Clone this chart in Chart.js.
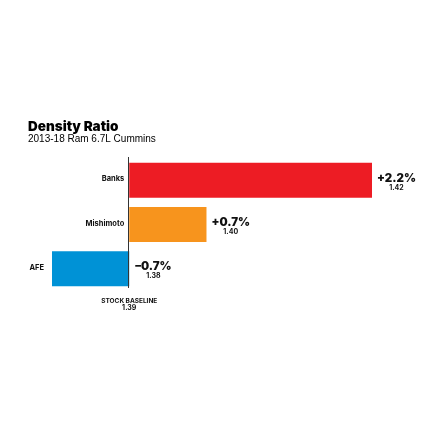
<!DOCTYPE html>
<html><head><meta charset="utf-8">
<script src="https://cdn.jsdelivr.net/npm/chart.js@4"></script>
<style>html,body{margin:0;padding:0;background:#fff}#wrap{width:430px;height:430px}</style>
</head><body><div id="wrap"><canvas id="c" width="430" height="430"></canvas></div>
<script>
const categories = ['Banks', 'Mishimoto', 'AFE'];
const pctChange = [2.2, 0.7, -0.7];
const pctLabels = ['+2.2%', '+0.7%', '\u20130.7%'];
const ratioLabels = ['1.42', '1.40', '1.38'];
const barColors = ['#ED1C24', '#F7941D', '#0092D6'];
const baselineLabel = 'STOCK BASELINE';
const baselineValue = '1.39';
const titleText = 'Density Ratio';
const subtitleText = '2013-18 Ram 6.7L Cummins';

const annot = {
  id: 'annot',
  afterDatasetsDraw(chart) {
    const ctx = chart.ctx, xs = chart.scales.x, ca = chart.chartArea;
    const x0 = xs.getPixelForValue(0);
    ctx.save();
    ctx.strokeStyle = '#333'; ctx.lineWidth = 1;
    ctx.beginPath(); ctx.moveTo(Math.round(x0) - 0.5, ca.top - 1); ctx.lineTo(Math.round(x0) - 0.5, ca.bottom - 3); ctx.stroke();
    ctx.fillStyle = '#000'; ctx.textBaseline = 'alphabetic'; ctx.textAlign = 'left';
    ctx.font = '900 13.5px Inter';
    ctx.fillText(titleText, 28, 131);
    ctx.font = '10px Arial';
    ctx.fillText(subtitleText, 28, 142);
    const meta = chart.getDatasetMeta(0);
    meta.data.forEach((bar, i) => {
      const y = bar.y;
      const v = pctChange[i];
      const left = Math.min(bar.x, bar.base);
      const right = Math.max(bar.x, bar.base);
      ctx.fillStyle = '#111';
      ctx.font = '700 7.5px Inter';
      ctx.textAlign = 'right'; ctx.textBaseline = 'alphabetic';
      ctx.fillText(categories[i], left - (v < 0 ? 8 : 5), y + 1);
      const lx = (v >= 0 ? right + 5 : x0 + 6);
      ctx.font = '900 11.5px Inter';
      ctx.textAlign = 'left';
      const w = ctx.measureText(pctLabels[i]).width;
      ctx.fillText(pctLabels[i], lx, y + 1.5);
      ctx.font = '700 7px Inter';
      ctx.textAlign = 'center';
      ctx.fillText(ratioLabels[i], lx + w / 2, y + 9.5);
    });
    ctx.textAlign = 'center'; ctx.textBaseline = 'alphabetic';
    ctx.font = '700 6.5px Inter';
    ctx.fillText(baselineLabel, x0, 303);
    ctx.font = '700 7px Inter';
    ctx.fillText(baselineValue, x0, 310);
    ctx.restore();
  }
};

new Chart(document.getElementById('c'), {
  type: 'bar',
  data: {
    labels: categories,
    datasets: [{ data: pctChange, backgroundColor: barColors, borderWidth: 0, barPercentage: 0.79, categoryPercentage: 1 }]
  },
  options: {
    indexAxis: 'y',
    responsive: false,
    animation: false,
    layout: { padding: { left: 52, right: 58, top: 158, bottom: 139 } },
    plugins: { legend: { display: false }, tooltip: { enabled: false } },
    scales: {
      x: { display: false, min: -0.7, max: 2.2 },
      y: { display: false }
    }
  },
  plugins: [annot]
});
</script></body></html>
